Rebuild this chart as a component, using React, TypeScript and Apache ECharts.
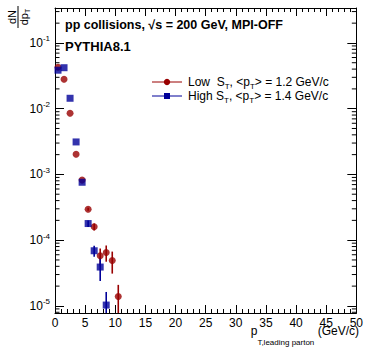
import React, { useEffect, useRef } from "react";
import * as echarts from "echarts";

// ---- data ----
const lowCenters = [0.5, 1.5, 2.5, 3.5, 4.5, 5.5, 6.5, 7.5, 8.5, 9.5, 10.5];
const lowValues = [0.0427, 0.028, 0.0085, 0.00203, 8.2e-4, 2.95e-4, 1.6e-4, 5.8e-5, 6.5e-5, 4.9e-5, 1.39e-5];
const lowErrors = [0, 0, 0, 0, 0, 1.5e-5, 2e-5, 1.7e-5, 1.8e-5, 1.8e-5, 0.7e-5];

const highCenters = [0.5, 1.5, 2.5, 3.5, 4.5, 5.5, 6.5, 7.5, 8.5];
const highValues = [0.0385, 0.042, 0.0144, 3.12e-3, 7.6e-4, 1.79e-4, 6.9e-5, 3.9e-5, 1.03e-5];
const highErrors = [0, 0, 0, 0, 0, 2e-5, 1.3e-5, 1.5e-5, 0.6e-5];

// ---- axes ----
const X_MIN = 0;
const X_MAX = 50;
const X_INTERVAL = 5;
const Y_MIN = 7.8e-6;
const Y_MAX = 0.34;
const minorMantissas = [2, 3, 4, 5, 6, 7, 8, 9];
const minorDecades = [1e-6, 1e-5, 1e-4, 1e-3, 1e-2, 1e-1];

const RED = "#990000";
const BLUE = "#000099";
const FONT = "Liberation Sans";

const minorTickValues: number[] = [];
minorDecades.forEach((d) =>
  minorMantissas.forEach((m) => {
    const v = m * d;
    if (v > Y_MIN && v < Y_MAX) minorTickValues.push(v);
  })
);

const yLabel = (v: number) => {
  const e = Math.round(Math.log10(v));
  return "10{sup|" + e + "}";
};

function errorSeries(centers: number[], values: number[], errors: number[], color: string) {
  return {
    type: "custom",
    xAxisIndex: 0,
    yAxisIndex: 0,
    silent: true,
    z: 2,
    encode: { x: 0, y: 1 },
    data: centers.map((x, i) => [x, values[i], errors[i]]),
    renderItem: (params: any, api: any) => {
      const x = api.value(0);
      const v = api.value(1);
      const err = api.value(2);
      if (!(err > 0)) return null;
      const top = api.coord([x, Math.min(v + err, Y_MAX)]);
      const bot = api.coord([x, Math.max(v - err, Y_MIN)]);
      return {
        type: "line",
        shape: { x1: top[0], y1: top[1], x2: bot[0], y2: bot[1] },
        style: { stroke: color, lineWidth: 1.6 },
      };
    },
  };
}

export default function App() {
  const ref = useRef<HTMLDivElement>(null);
  useEffect(() => {
    if (!ref.current) return;
    const chart = echarts.init(ref.current, null, { renderer: "svg" });
    const xCommon = {
      type: "value",
      min: X_MIN,
      max: X_MAX,
      interval: X_INTERVAL,
      axisLine: { show: true, onZero: false, lineStyle: { color: "#000", width: 1 } },
      axisTick: { show: true, inside: true, length: 8, lineStyle: { color: "#000", width: 1 } },
      minorTick: { show: true, splitNumber: 5, length: 4, lineStyle: { color: "#000", width: 1 } },
      splitLine: { show: false },
      minorSplitLine: { show: false },
    };
    const yCommon = {
      type: "log",
      logBase: 10,
      min: Y_MIN,
      max: Y_MAX,
      axisLine: { show: true, onZero: false, lineStyle: { color: "#000", width: 1 } },
      axisTick: { show: true, inside: true, length: 9, lineStyle: { color: "#000", width: 1 } },
      splitLine: { show: false },
    };
    chart.setOption({
      animation: false,
      backgroundColor: "#fff",
      grid: { left: 55, right: 7, top: 8, bottom: 40, containLabel: false },
      xAxis: [
        {
          ...xCommon,
          position: "bottom",
          axisLabel: { color: "#000", fontFamily: FONT, fontSize: 12, margin: 4 },
        },
        { ...xCommon, position: "top", axisLabel: { show: false } },
      ],
      yAxis: [
        {
          ...yCommon,
          position: "left",
          axisLabel: {
            color: "#000",
            fontFamily: FONT,
            fontSize: 12,
            margin: 5,
            showMinLabel: false,
            showMaxLabel: false,
            formatter: yLabel,
            rich: { sup: { fontSize: 8, fontFamily: FONT, color: "#000", padding: [0, 0, 8, 0] } },
          },
        },
        { ...yCommon, position: "right", axisLabel: { show: false } },
      ],
      series: [
        {
          type: "custom",
          xAxisIndex: 0,
          yAxisIndex: 0,
          silent: true,
          z: 1,
          encode: { x: 0, y: 1 },
          data: minorTickValues.map((v) => [X_MIN, v]),
          renderItem: (params: any, api: any) => {
            const v = api.value(1);
            const l = api.coord([X_MIN, v]);
            const r = api.coord([X_MAX, v]);
            return {
              type: "group",
              children: [
                { type: "line", shape: { x1: l[0], y1: l[1], x2: l[0] + 4.5, y2: l[1] }, style: { stroke: "#000", lineWidth: 1 } },
                { type: "line", shape: { x1: r[0] - 4.5, y1: r[1], x2: r[0], y2: r[1] }, style: { stroke: "#000", lineWidth: 1 } },
              ],
            };
          },
        },
        errorSeries(lowCenters, lowValues, lowErrors, RED),
        errorSeries(highCenters, highValues, highErrors, BLUE),
        {
          name: "Low",
          type: "scatter",
          z: 3,
          symbol: "circle",
          symbolSize: 7,
          itemStyle: { color: RED },
          data: lowCenters.map((x, i) => [x, lowValues[i]]),
        },
        {
          name: "High",
          type: "scatter",
          z: 3,
          symbol: "rect",
          symbolSize: 7,
          itemStyle: { color: BLUE },
          data: highCenters.map((x, i) => [x, highValues[i]]),
        },
      ],
      graphic: [
        {
          type: "text",
          x: 65,
          y: 25,
          style: {
            text: "pp collisions, √s = 200 GeV, MPI-OFF",
            fontFamily: FONT,
            fontSize: 12.5,
            fontWeight: "bold",
            fill: "#000",
            verticalAlign: "middle",
          },
        },
        {
          type: "text",
          x: 65,
          y: 46,
          style: { text: "PYTHIA8.1", fontFamily: FONT, fontSize: 13, fontWeight: "bold", fill: "#000", verticalAlign: "middle" },
        },
        // legend
        { type: "line", shape: { x1: 152, y1: 82, x2: 182, y2: 82 }, style: { stroke: RED, lineWidth: 1 } },
        { type: "circle", shape: { cx: 167, cy: 82, r: 3.2 }, style: { fill: RED } },
        {
          type: "text",
          x: 188,
          y: 82,
          style: {
            text: "Low  S{sub|T}, <p{sub|T}> = 1.2 GeV/c",
            fontFamily: FONT,
            fontSize: 12,
            fill: "#000",
            verticalAlign: "middle",
            rich: { sub: { fontSize: 8, fontFamily: FONT, fill: "#000", padding: [8, 0, 0, 0] } },
          },
        },
        { type: "line", shape: { x1: 152, y1: 96, x2: 182, y2: 96 }, style: { stroke: BLUE, lineWidth: 1 } },
        { type: "rect", shape: { x: 164, y: 93, width: 6, height: 6 }, style: { fill: BLUE } },
        {
          type: "text",
          x: 188,
          y: 96,
          style: {
            text: "High S{sub|T}, <p{sub|T}> = 1.4 GeV/c",
            fontFamily: FONT,
            fontSize: 12,
            fill: "#000",
            verticalAlign: "middle",
            rich: { sub: { fontSize: 8, fontFamily: FONT, fill: "#000", padding: [8, 0, 0, 0] } },
          },
        },
        // y title (rotated fraction)
        {
          type: "group",
          x: 18,
          y: 17,
          rotation: Math.PI / 2,
          children: [
            {
              type: "text",
              x: 0,
              y: -6,
              style: { text: "dN", fontFamily: FONT, fontSize: 11, fill: "#000", align: "center", verticalAlign: "middle" },
            },
            { type: "line", shape: { x1: -11, y1: 0, x2: 11, y2: 0 }, style: { stroke: "#000", lineWidth: 1 } },
            {
              type: "text",
              x: 0,
              y: 6,
              style: {
                text: "dp{sub|T}",
                fontFamily: FONT,
                fontSize: 11,
                fill: "#000",
                align: "center",
                verticalAlign: "middle",
                rich: { sub: { fontSize: 7, fontFamily: FONT, fill: "#000", padding: [6, 0, 0, 0] } },
              },
            },
          ],
        },
        // x title
        {
          type: "text",
          x: 359,
          y: 331,
          style: {
            text: "p{sub|T,leading parton} (GeV/c)",
            fontFamily: FONT,
            fontSize: 12,
            fill: "#000",
            align: "right",
            verticalAlign: "middle",
            rich: { sub: { fontSize: 8, fontFamily: FONT, fill: "#000", padding: [22, 0, 0, 0] } },
          },
        },
      ],
    });
    return () => chart.dispose();
  }, []);
  return <div ref={ref} style={{ position: "fixed", left: 0, top: 0, width: 366, height: 353 }} />;
}
